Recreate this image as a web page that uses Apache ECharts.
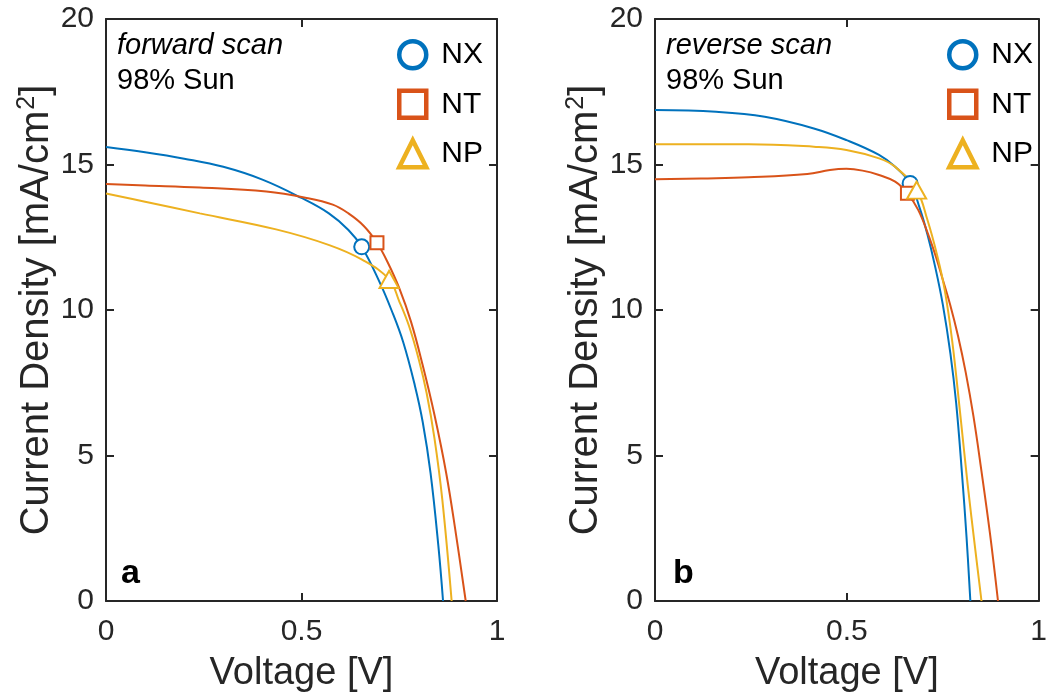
<!DOCTYPE html>
<html>
<head>
<meta charset="utf-8">
<title>J-V curves</title>
<script src="https://cdn.jsdelivr.net/npm/echarts@6/dist/echarts.min.js"></script>
<style>
  html, body { margin: 0; padding: 0; background: #fff; }
  #chart { width: 1050px; height: 700px; }
</style>
</head>
<body>
<div id="chart"></div>
<script>
// Series names and colours
const seriesNames = ['NX', 'NT', 'NP'];
const seriesColors = ['#0072BD', '#D95319', '#EDB120'];

// Axis ticks
const voltageTicks = [0, 0.5, 1];
const currentTicks = [0, 5, 10, 15, 20];

// Forward scan: voltage [V] and current density [mA/cm2]
const fwdV_NX = [0, 0.1, 0.2, 0.3, 0.4, 0.5, 0.57, 0.62, 0.654, 0.70, 0.73, 0.76, 0.79, 0.81, 0.83, 0.85, 0.862];
const fwdJ_NX = [15.6, 15.42, 15.2, 14.92, 14.48, 13.85, 13.32, 12.75, 12.17, 10.95, 10.0, 8.9, 7.4, 6.15, 4.4, 1.9, 0];
const fwdV_NT = [0, 0.1, 0.24, 0.41, 0.51, 0.58, 0.62, 0.66, 0.693, 0.72, 0.75, 0.78, 0.81, 0.84, 0.87, 0.895, 0.92];
const fwdJ_NT = [14.33, 14.28, 14.21, 14.07, 13.86, 13.62, 13.32, 12.88, 12.31, 11.65, 10.75, 9.6, 8.1, 6.4, 4.4, 2.3, 0];
const fwdV_NP = [0, 0.1, 0.24, 0.435, 0.571, 0.656, 0.724, 0.75, 0.775, 0.80, 0.82, 0.84, 0.86, 0.884];
const fwdJ_NP = [14.0, 13.72, 13.32, 12.77, 12.23, 11.72, 11.05, 10.3, 9.45, 8.3, 7.15, 5.6, 3.5, 0];

// Reverse scan
const revV_NX = [0, 0.159, 0.286, 0.414, 0.499, 0.584, 0.626, 0.665, 0.69, 0.71, 0.73, 0.75, 0.77, 0.785, 0.80, 0.812, 0.822];
const revJ_NX = [16.87, 16.81, 16.64, 16.24, 15.84, 15.33, 14.92, 14.35, 13.5, 12.6, 11.5, 10.2, 8.5, 6.8, 4.4, 2.2, 0];
const revV_NT = [0, 0.12, 0.244, 0.397, 0.456, 0.499, 0.541, 0.584, 0.626, 0.658, 0.686, 0.712, 0.733, 0.75, 0.769, 0.79, 0.81, 0.83, 0.85, 0.873, 0.894];
const revJ_NT = [14.49, 14.52, 14.56, 14.67, 14.81, 14.85, 14.79, 14.64, 14.41, 14.01, 13.44, 12.6, 11.8, 11.05, 10.2, 9.1, 7.85, 6.35, 4.55, 2.33, 0];
const revV_NP = [0, 0.244, 0.414, 0.499, 0.584, 0.626, 0.682, 0.71, 0.735, 0.755, 0.775, 0.795, 0.815, 0.835, 0.851];
const revJ_NP = [15.7, 15.7, 15.61, 15.5, 15.21, 14.92, 14.12, 13.1, 11.9, 10.7, 8.9, 6.5, 4.0, 1.75, 0];

// Maximum power points (NX, NT, NP)
const fwdMppV = [0.654, 0.693, 0.724];
const fwdMppJ = [12.17, 12.31, 11.05];
const revMppV = [0.665, 0.658, 0.682];
const revMppJ = [14.35, 14.01, 14.12];

const FONT = '"Liberation Sans", Arial, Helvetica, sans-serif';
const AXIS_COLOR = '#262626';
const markerShapes = ['circle', 'rect', 'triangle'];
const markerSizes = [15, 13, [19, 17]];

function zip(xs, ys) { return xs.map((x, i) => [x, ys[i]]); }

const curveSets = [
  [zip(fwdV_NX, fwdJ_NX), zip(fwdV_NT, fwdJ_NT), zip(fwdV_NP, fwdJ_NP)],
  [zip(revV_NX, revJ_NX), zip(revV_NT, revJ_NT), zip(revV_NP, revJ_NP)]
];
const mppSets = [[fwdMppV, fwdMppJ], [revMppV, revMppJ]];

const tickCommon = { show: true, inside: true, length: 8, lineStyle: { color: AXIS_COLOR, width: 2 } };
const lineCommon = { show: true, onZero: false, lineStyle: { color: AXIS_COLOR, width: 2 } };

const xAxes = [], yAxes = [], series = [];
[0, 1].forEach(g => {
  // bottom and top voltage axes
  xAxes.push({
    type: 'value', gridIndex: g, min: voltageTicks[0], max: voltageTicks[voltageTicks.length - 1],
    interval: voltageTicks[1] - voltageTicks[0],
    axisLine: lineCommon, axisTick: tickCommon, splitLine: { show: false },
    axisLabel: { fontSize: 30, color: AXIS_COLOR, fontFamily: FONT, margin: 16 },
    name: 'Voltage [V]', nameLocation: 'middle', nameGap: 54,
    nameTextStyle: { fontSize: 38, color: AXIS_COLOR, fontFamily: FONT }
  });
  xAxes.push({
    type: 'value', gridIndex: g, position: 'top', min: voltageTicks[0], max: voltageTicks[voltageTicks.length - 1],
    interval: voltageTicks[1] - voltageTicks[0],
    axisLine: lineCommon, axisTick: tickCommon, axisLabel: { show: false }, splitLine: { show: false }
  });
  // left and right current density axes
  yAxes.push({
    type: 'value', gridIndex: g, min: currentTicks[0], max: currentTicks[currentTicks.length - 1],
    interval: currentTicks[1] - currentTicks[0],
    axisLine: lineCommon, axisTick: tickCommon, splitLine: { show: false },
    axisLabel: { fontSize: 30, color: AXIS_COLOR, fontFamily: FONT, margin: 12 },
    name: '{a|Current Density [mA/cm}{s|2}{a|]}', nameLocation: 'middle', nameGap: 46,
    nameTextStyle: {
      color: AXIS_COLOR, fontFamily: FONT,
      rich: {
        a: { fontSize: 40, color: AXIS_COLOR, fontFamily: FONT, lineHeight: 44 },
        s: { fontSize: 25, color: AXIS_COLOR, fontFamily: FONT, verticalAlign: 'top', padding: [0, 0, 6, 1] }
      }
    }
  });
  yAxes.push({
    type: 'value', gridIndex: g, position: 'right', min: currentTicks[0], max: currentTicks[currentTicks.length - 1],
    interval: currentTicks[1] - currentTicks[0],
    axisLine: lineCommon, axisTick: tickCommon, axisLabel: { show: false }, splitLine: { show: false }
  });

  // maximum power point markers, listed first so the legend uses their symbols
  seriesNames.forEach((name, i) => {
    series.push({
      name, type: 'scatter', xAxisIndex: g * 2, yAxisIndex: g * 2, z: 5,
      symbol: markerShapes[i], symbolSize: markerSizes[i],
      itemStyle: { color: '#fff', borderColor: seriesColors[i], borderWidth: 2, opacity: 1 },
      data: [[mppSets[g][0][i], mppSets[g][1][i]]],
      silent: true
    });
  });
  // J-V curves
  seriesNames.forEach((name, i) => {
    series.push({
      name, type: 'line', xAxisIndex: g * 2, yAxisIndex: g * 2, z: 3,
      smooth: 0.4, showSymbol: false, symbol: 'none',
      lineStyle: { color: seriesColors[i], width: 2 },
      itemStyle: { color: seriesColors[i] },
      data: curveSets[g][i],
      silent: true
    });
  });
});

function legendFor(left) {
  return {
    left, top: 39, padding: 0, orient: 'vertical', selectedMode: false,
    itemWidth: 27, itemHeight: 27, itemGap: 18,
    textStyle: { fontSize: 30, color: '#000', fontFamily: FONT, padding: [0, 0, 0, 10] },
    data: seriesNames.map((name, i) => ({
      name, icon: markerShapes[i],
      itemStyle: { color: '#fff', borderColor: seriesColors[i], borderWidth: 4.5, opacity: 1 }
    }))
  };
}

function txt(left, top, text, font) {
  return { type: 'text', left, top, silent: true, style: { text, font, fill: '#000' } };
}

const option = {
  backgroundColor: '#fff',
  animation: false,
  grid: [
    { left: 106, top: 19, width: 391, height: 582 },
    { left: 655, top: 19, width: 392, height: 582 }
  ],
  xAxis: xAxes,
  yAxis: yAxes,
  legend: [legendFor(397), legendFor(947)],
  graphic: [
    txt(117, 31, 'forward scan', 'italic 29px ' + FONT),
    txt(117, 66, '98% Sun', '29px ' + FONT),
    txt(121, 557, 'a', 'bold 34px ' + FONT),
    txt(666, 31, 'reverse scan', 'italic 29px ' + FONT),
    txt(666, 66, '98% Sun', '29px ' + FONT),
    txt(673, 557, 'b', 'bold 34px ' + FONT)
  ],
  series
};

const chart = echarts.init(document.getElementById('chart'), null, { renderer: 'canvas' });
chart.setOption(option);
</script>
</body>
</html>
